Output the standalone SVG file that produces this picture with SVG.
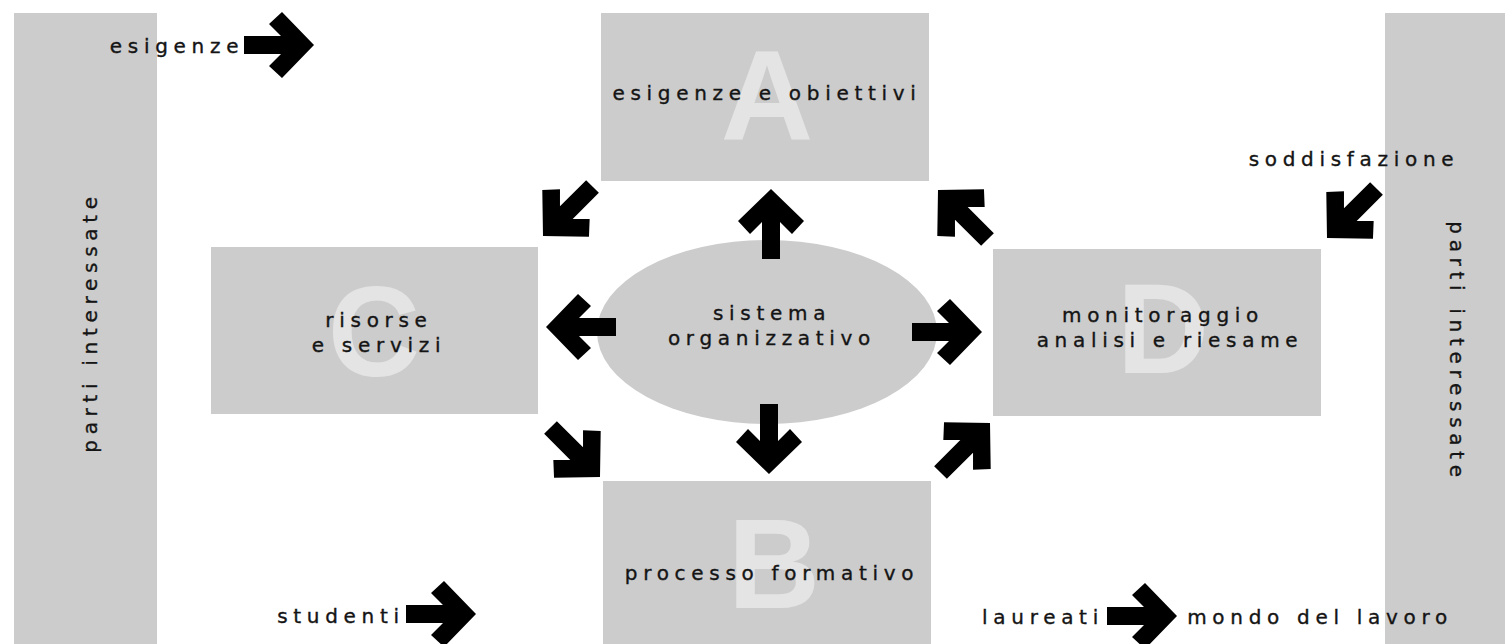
<svg xmlns="http://www.w3.org/2000/svg" width="1505" height="644" viewBox="0 0 1505 644">
<style>
.box{fill:#cccccc}
.big{font-family:"Liberation Sans",Arial,sans-serif;font-weight:bold;font-size:128px;fill:#e4e4e4;text-anchor:middle}
.t{font-family:"DejaVu Sans",Verdana,sans-serif;font-size:20px;letter-spacing:5.7px;fill:#141414;stroke:#141414;stroke-width:0.35px;text-anchor:middle}
.arr{fill:#000}
</style>
<defs>
<path id="ar" d="M-70,-9 L-33,-9 L-45,-21 L-32,-33 L0,0 L-32,33 L-45,21 L-33,9 L-70,9 Z"/>
</defs>
<rect width="1505" height="644" fill="#ffffff"/>
<g id="parti-sx">
<rect class="box" x="14" y="13" width="143" height="631"/>
<text class="t" transform="translate(97,322) rotate(-90)">parti interessate</text>
</g>
<g id="parti-dx">
<rect class="box" x="1385" y="13" width="120" height="631"/>
<text class="t" transform="translate(1450,352) rotate(90)">parti interessate</text>
</g>
<g id="A">
<rect class="box" x="601" y="13" width="328" height="168"/>
<text class="big" x="767" y="140">A</text>
<text class="t" x="767" y="100">esigenze e obiettivi</text>
</g>
<g id="C">
<rect class="box" x="211" y="247" width="327" height="167"/>
<text class="big" x="374" y="376">C</text>
<text class="t" x="379" y="327">risorse</text>
<text class="t" x="379" y="352">e servizi</text>
</g>
<g id="D">
<rect class="box" x="993" y="249" width="328" height="167"/>
<text class="big" x="1163" y="373">D</text>
<text class="t" x="1163" y="322">monitoraggio</text>
<text class="t" x="1170" y="347">analisi e riesame</text>
</g>
<g id="B">
<rect class="box" x="603" y="481" width="328" height="163"/>
<text class="big" x="774" y="608">B</text>
<text class="t" x="772" y="580">processo formativo</text>
</g>
<g id="sistema">
<ellipse cx="767" cy="332" rx="170" ry="92" fill="#cccccc"/>
<text class="t" x="772" y="320">sistema</text>
<text class="t" x="772" y="345">organizzativo</text>
</g>
<g id="labels">
<text class="t" x="177" y="53">esigenze</text>
<text class="t" x="1354" y="166">soddisfazione</text>
<text class="t" x="341" y="623">studenti</text>
<text class="t" x="1043" y="624">laureati</text>
<text class="t" x="1320" y="624">mondo del lavoro</text>
</g>
<g id="connectors" class="arr">
<use href="#ar" transform="translate(314,45)"/>
<use href="#ar" transform="translate(771,189) rotate(-90)"/>
<use href="#ar" transform="translate(769,474) rotate(90)"/>
<use href="#ar" transform="translate(546,327) rotate(180)"/>
<use href="#ar" transform="translate(982,332)"/>
<use href="#ar" transform="translate(543,236) rotate(135)"/>
<use href="#ar" transform="translate(938,190) rotate(-135)"/>
<use href="#ar" transform="translate(600,477) rotate(45)"/>
<use href="#ar" transform="translate(990,423) rotate(-45)"/>
<use href="#ar" transform="translate(1327,238) rotate(135)"/>
<use href="#ar" transform="translate(476,614)"/>
<use href="#ar" transform="translate(1177,616)"/>
</g>
</svg>
